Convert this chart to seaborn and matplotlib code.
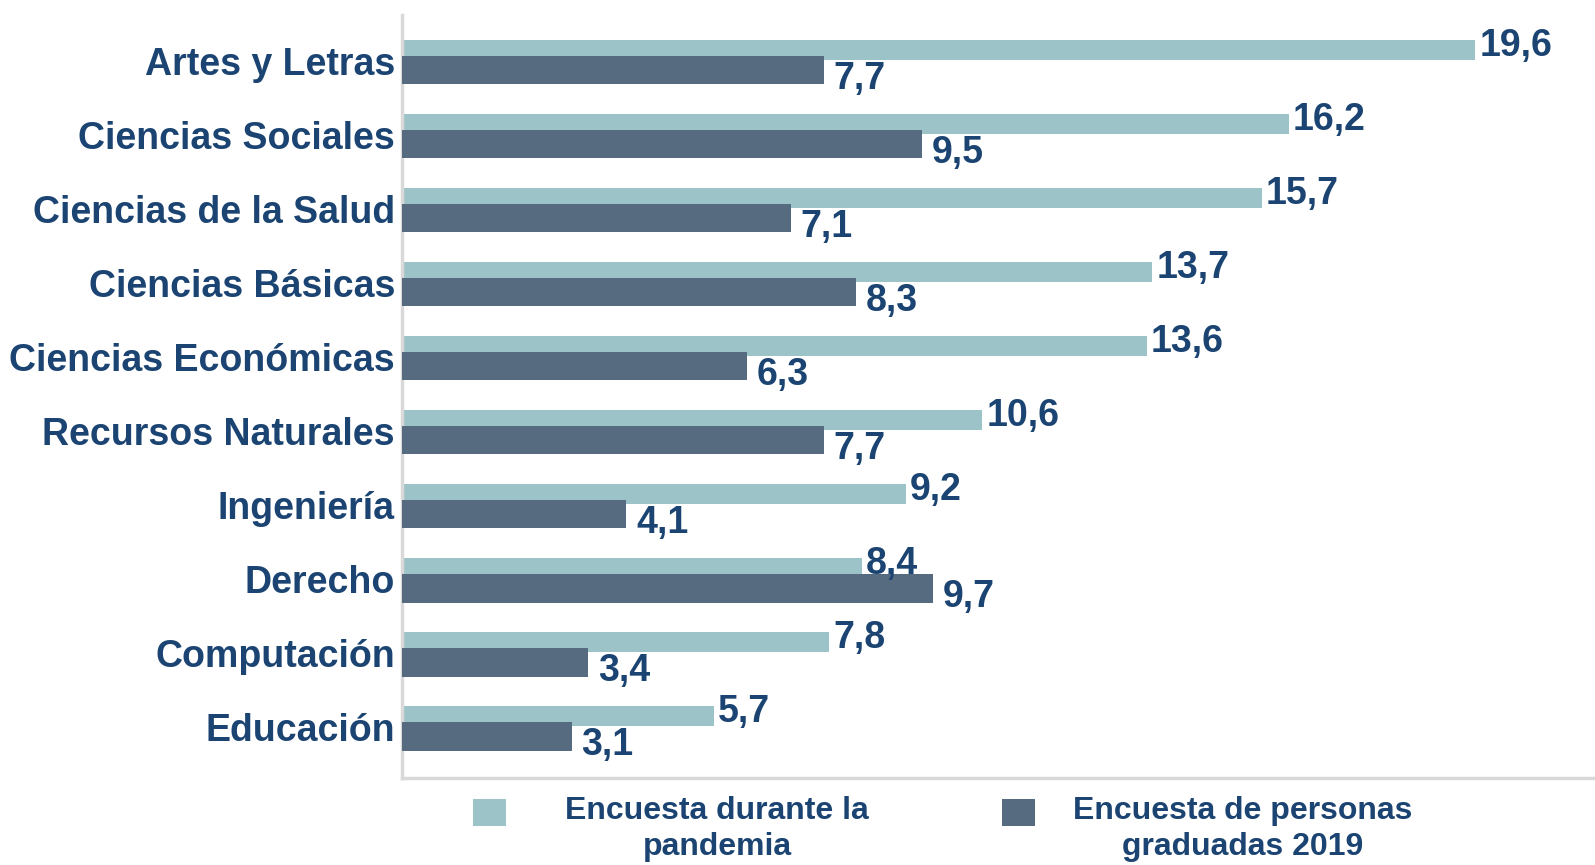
import matplotlib
matplotlib.use("Agg")
import matplotlib.pyplot as plt
import seaborn as sns
import pandas as pd
from matplotlib.patches import Rectangle

# datos del gráfico
areas = ["Artes y Letras", "Ciencias Sociales", "Ciencias de la Salud", "Ciencias Básicas",
         "Ciencias Económicas", "Recursos Naturales", "Ingeniería", "Derecho",
         "Computación", "Educación"]
pandemia = [19.6, 16.2, 15.7, 13.7, 13.6, 10.6, 9.2, 8.4, 7.8, 5.7]
graduados_2019 = [7.7, 9.5, 7.1, 8.3, 6.3, 7.7, 4.1, 9.7, 3.4, 3.1]
series = ["Encuesta durante la\npandemia", "Encuesta de personas\ngraduadas 2019"]

c_claro = "#9CC3C8"
c_oscuro = "#566B80"
c_texto = "#1B4472"
c_eje = "#D9D9D9"

df = pd.DataFrame({
    "area": areas * 2,
    "valor": pandemia + graduados_2019,
    "serie": [series[0]] * len(areas) + [series[1]] * len(areas),
})

sns.set_style("white")
plt.rcParams["font.family"] = ["Liberation Sans", "DejaVu Sans"]

fig = plt.figure(figsize=(15.95, 8.65), dpi=100)
ax = fig.add_axes([0.252, 0.1006, 0.748, 0.8824])

sns.barplot(data=df, y="area", x="valor", hue="serie", order=areas, hue_order=series,
            palette=[c_claro, c_oscuro], orient="h", dodge=True, legend=False,
            saturation=1, ax=ax)

# barras claras más delgadas y detrás, barras oscuras más gruesas encima
geom = [(-0.28, 0.27, 2), (-0.06, 0.38, 3)]
for cont, (y0, h, z) in zip(ax.containers, geom):
    for i, p in enumerate(cont.patches):
        p.set_y(i + y0)
        p.set_height(h)
        p.set_zorder(z)
        p.set_edgecolor("none")

# etiquetas de valores con coma decimal
for i, v in enumerate(pandemia):
    ax.annotate(f"{v:.1f}".replace(".", ","), (v, i - 0.145), xytext=(3, 3),
                textcoords="offset points", ha="left", va="center",
                fontsize=27, fontweight="bold", color=c_texto, zorder=5)
for i, v in enumerate(graduados_2019):
    ax.annotate(f"{v:.1f}".replace(".", ","), (v, i + 0.13), xytext=(7, -6),
                textcoords="offset points", ha="left", va="center",
                fontsize=27, fontweight="bold", color=c_texto, zorder=5)

ax.set_xlim(0, 21.79)
ax.set_ylim(9.69, -0.62)
ax.set_xlabel("")
ax.set_ylabel("")
ax.set_xticks([])
ax.tick_params(axis="y", length=0, pad=5)
for lab in ax.get_yticklabels():
    lab.set_fontsize(27)
    lab.set_fontweight("bold")
    lab.set_color(c_texto)

for s in ["top", "right"]:
    ax.spines[s].set_visible(False)
for s in ["left", "bottom"]:
    ax.spines[s].set_color(c_eje)
    ax.spines[s].set_linewidth(2.5)

# leyenda manual debajo del gráfico
W, H = 1595, 865
leg = [(473, 717, c_claro, series[0]), (1002, 1243, c_oscuro, series[1])]
for xs, xt, col, txt in leg:
    fig.patches.append(Rectangle((xs / W, 1 - 826 / H), 33 / W, 27 / H,
                                 transform=fig.transFigure, facecolor=col, edgecolor="none"))
    fig.text(xt / W, 1 - 829 / H, txt, ha="center", va="center", multialignment="center",
             fontsize=23, fontweight="bold", color=c_texto, linespacing=1.3)

fig.savefig("out.png", dpi=100)
